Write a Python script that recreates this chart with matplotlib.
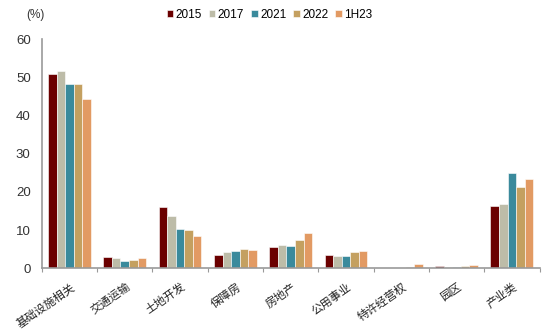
import numpy as np
import matplotlib.pyplot as plt

plt.rcParams['font.family'] = ['Liberation Sans', 'Noto Sans CJK SC']

categories = ['基础设施相关', '交通运输', '土地开发', '保障房', '房地产',
              '公用事业', '特许经营权', '园区', '产业类']
years = ['2015', '2017', '2021', '2022', '1H23']
v2015 = [51.0, 3.0, 16.0, 3.5, 5.6, 3.5, 0.0, 0.6, 16.2]
v2017 = [51.7, 2.6, 13.8, 4.2, 6.2, 3.2, 0.0, 0.3, 16.9]
v2021 = [48.2, 1.8, 10.2, 4.5, 5.9, 3.2, 0.0, 0.3, 24.9]
v2022 = [48.2, 2.2, 10.0, 5.0, 7.3, 4.2, 0.4, 0.5, 21.2]
v1h23 = [44.4, 2.6, 8.5, 4.8, 9.2, 4.5, 1.0, 0.8, 23.4]
colors = ['#6B0000', '#BDBCA8', '#3A8A9C', '#C4A060', '#E29A63']

series = [v2015, v2017, v2021, v2022, v1h23]

fig = plt.figure(figsize=(5.5, 3.29), dpi=100)
ax = fig.add_axes([0.076, 0.185, 0.905, 0.695])

x = np.arange(len(categories))
w = 0.155
for i, (vals, lab, c) in enumerate(zip(series, years, colors)):
    ax.bar(x + (i - 2) * w, vals, w, color=c, label=lab,
           edgecolor='white', linewidth=0.4)

ax.set_xlim(-0.5, len(categories) - 0.5)
ax.set_ylim(0, 60)
ax.set_yticks(range(0, 61, 10))
ax.tick_params(axis='y', length=0, labelsize=9.5, colors='#333333', pad=8)

# category boundaries as ticks on the x axis
ax.set_xticks(np.arange(-0.5, len(categories), 1))
ax.set_xticklabels([])
ax.tick_params(axis='x', direction='out', length=3, color='#999999')
for xi, name in zip(x, categories):
    ax.text(xi + 0.02, -3.4, name, rotation=35, ha='right', va='top',
            fontsize=8.2, color='#222222', rotation_mode='anchor')

for s in ['top', 'right']:
    ax.spines[s].set_visible(False)
for s in ['left', 'bottom']:
    ax.spines[s].set_color('#999999')
    ax.spines[s].set_linewidth(1.2)

fig.text(0.047, 0.955, '(%)', fontsize=8.5, color='#333333', va='center')
fig.legend(loc='center', bbox_to_anchor=(0.49, 0.955), ncol=5, frameon=False,
           fontsize=8.5, handlelength=0.55, handleheight=0.55, handletextpad=0.2,
           columnspacing=0.6)

fig.savefig('out.png', dpi=100)
